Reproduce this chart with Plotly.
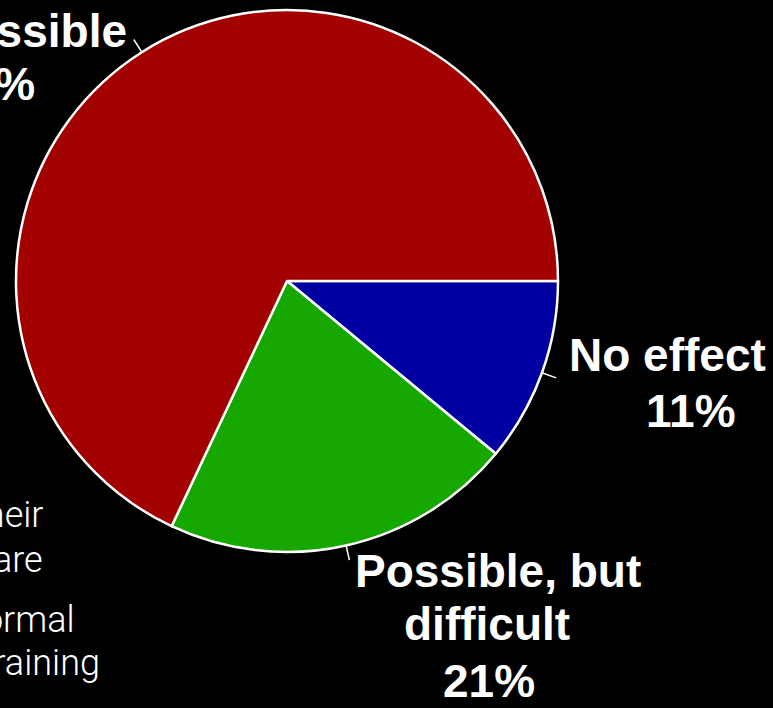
import math
import plotly.graph_objects as go

W, H = 773, 708

# Survey answers (percent of respondents)
labels = ["No effect", "Possible, but difficult", "Not possible"]
values = [11, 21, 68]
colors = ["#0000A2", "#16A800", "#A30000"]

# Label lines for each slice: (text, x_px, y_px, xanchor)
label_lines = [
    [("No effect", 667, 355, "center"), ("11%", 691, 411, "center")],
    [("Possible, but", 498, 571, "center"), ("difficult", 487, 624, "center"), ("21%", 489, 681, "center")],
    [("Not possible", 129, 31, "right"), ("68%", 37, 84, "right")],
]

# Side notes (left column of the slide)
side_notes = [
    ("• Most scientists develop their", 45, 515),
    ("own software, and most are", 45, 560),
    ("• Few have had any formal", 77, 620),
    ("software engineering training", 102, 663),
]

# Pie geometry in pixels
CX, CY, R = 287, 281, 271


def px(x):
    return x / W


def py(y):
    return 1 - y / H


fig = go.Figure(
    go.Pie(
        labels=labels,
        values=values,
        sort=False,
        direction="clockwise",
        rotation=90,
        marker=dict(colors=colors, line=dict(color="white", width=2.5)),
        textinfo="none",
        hoverinfo="label+percent",
        showlegend=False,
        domain=dict(x=[px(CX - R), px(CX + R)], y=[py(CY + R), py(CY - R)]),
    )
)

# Short radial leader ticks at each slice's middle angle
total = sum(values)
cum = 0
shapes = []
for v in values:
    mid = (cum + v / 2) / total
    cum += v
    th = 2 * math.pi * mid
    x0, y0 = CX + R * math.cos(th), CY + R * math.sin(th)
    x1, y1 = CX + (R + 15) * math.cos(th), CY + (R + 15) * math.sin(th)
    shapes.append(
        dict(type="line", xref="paper", yref="paper",
             x0=px(x0), y0=py(y0), x1=px(x1), y1=py(y1),
             line=dict(color="white", width=1.5))
    )

annotations = []
bold_font = dict(family="Helvetica, Arial, Liberation Sans, sans-serif", size=46,
                 color="white", weight="bold")
for lines in label_lines:
    for text, x, y, xa in lines:
        annotations.append(
            dict(text=text, x=px(x), y=py(y), xref="paper", yref="paper",
                 xanchor=xa, yanchor="middle", showarrow=False, font=bold_font)
        )

light_font = dict(family="Helvetica Neue, Roboto, Lato, sans-serif", size=36,
                  color="white", weight=300)
for text, x, y in side_notes:
    annotations.append(
        dict(text=text, x=px(x), y=py(y), xref="paper", yref="paper",
             xanchor="right", yanchor="middle", showarrow=False, font=light_font)
    )

fig.update_layout(
    width=W,
    height=H,
    margin=dict(l=0, r=0, t=0, b=0),
    paper_bgcolor="black",
    plot_bgcolor="black",
    shapes=shapes,
    annotations=annotations,
)

fig.write_html("out.html")
